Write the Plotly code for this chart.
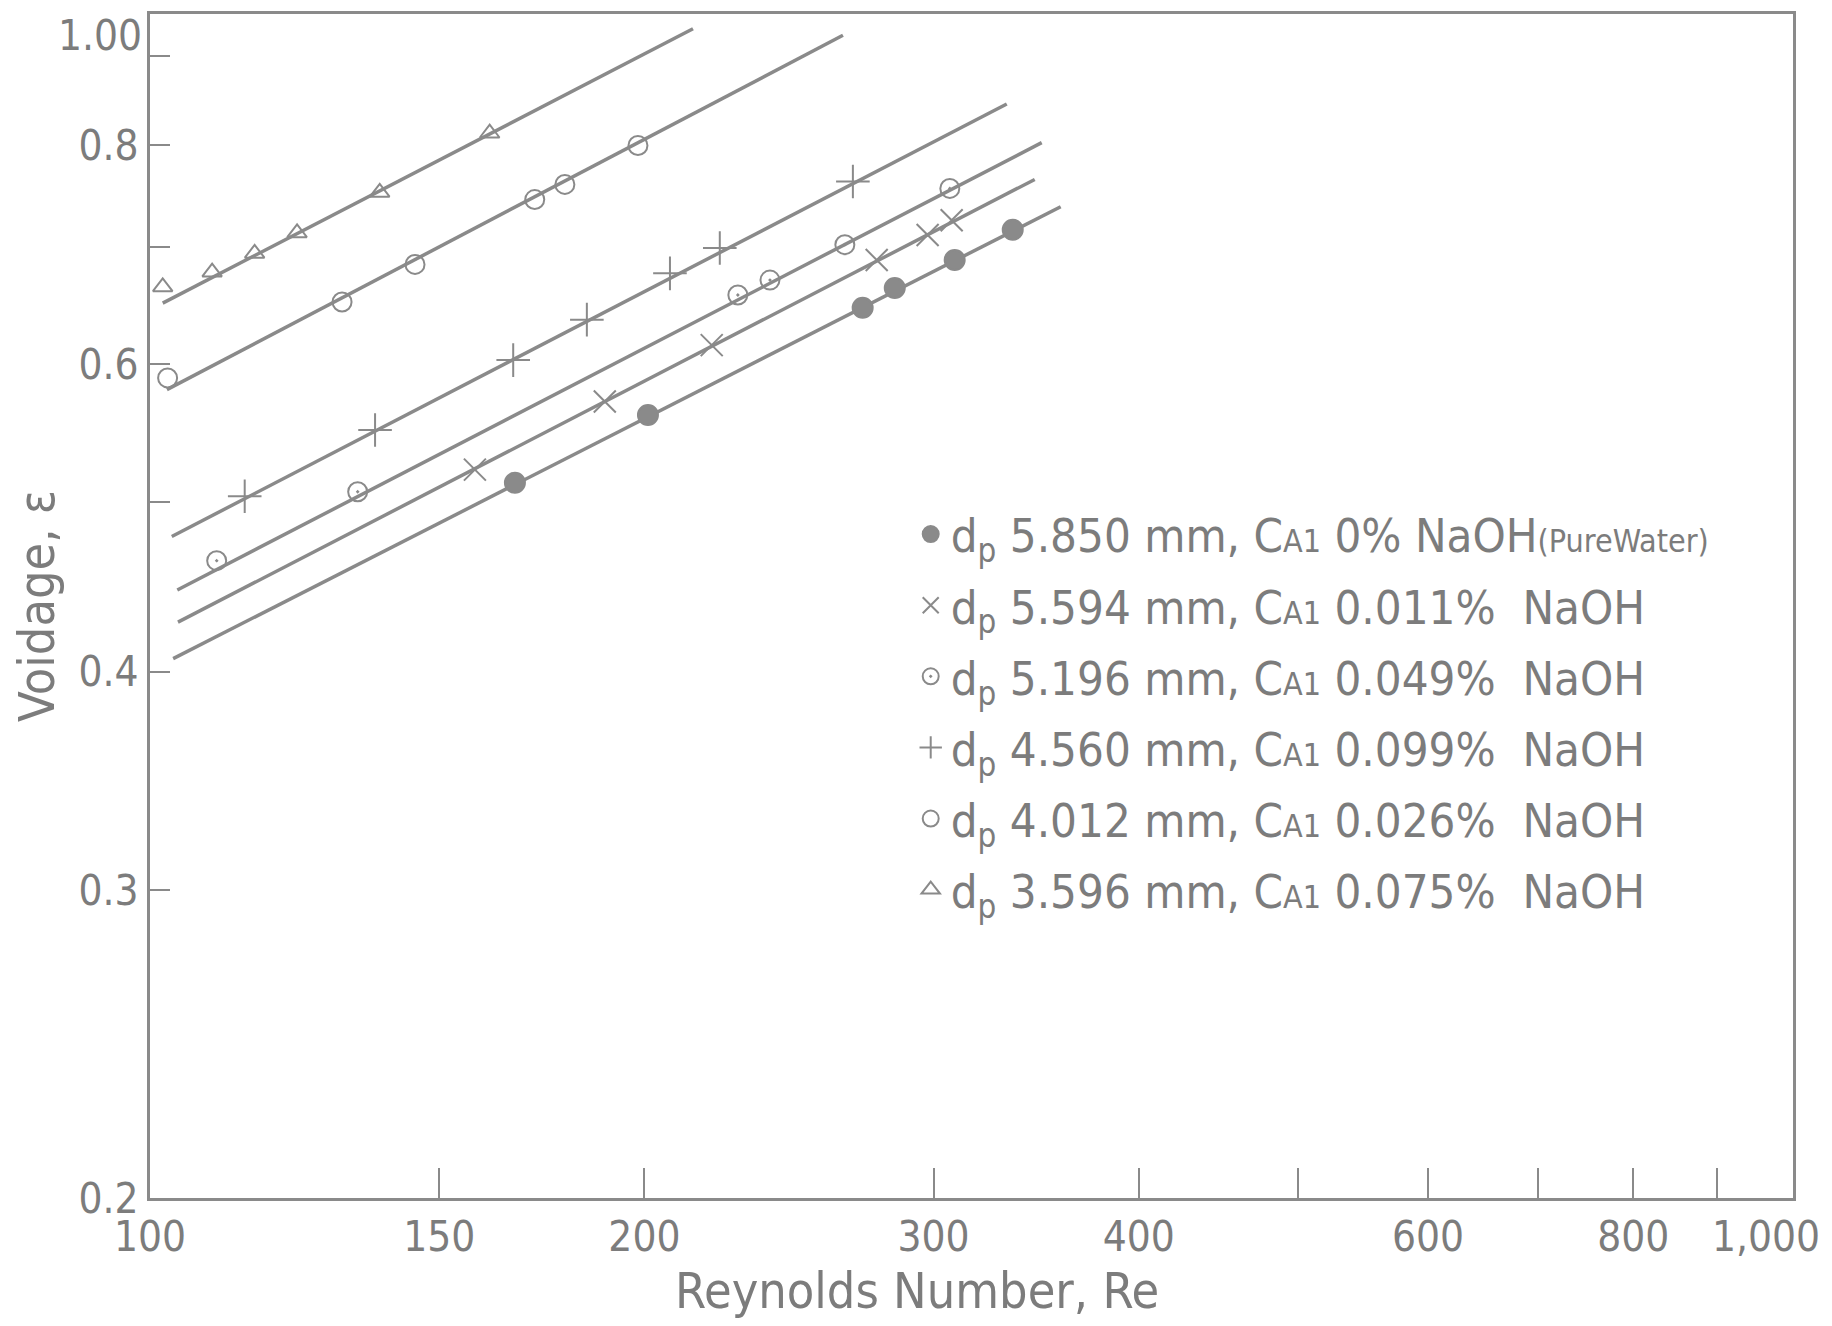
import plotly.graph_objects as go

# ---- data ----
re_tri = [101.8, 109.1, 115.8, 122.9, 138.0, 161.0]
eps_tri = [0.664, 0.677, 0.694, 0.713, 0.752, 0.813]
fit_re_tri = [101.8, 214.1]
fit_eps_tri = [0.650, 0.933]

re_phi = [102.5, 130.9, 145.0, 171.5, 178.9, 198.2]
eps_phi = [0.589, 0.651, 0.684, 0.745, 0.760, 0.800]
fit_re_phi = [102.4, 264.2]
fit_eps_phi = [0.580, 0.925]

re_plus = [114.2, 137.1, 166.4, 184.5, 207.3, 222.3, 267.9]
eps_plus = [0.504, 0.550, 0.603, 0.636, 0.676, 0.699, 0.763]
fit_re_plus = [103.1, 332.4]
fit_eps_plus = [0.478, 0.845]

re_o = [109.8, 133.8, 228.0, 238.5, 264.9, 306.9]
eps_o = [0.463, 0.507, 0.657, 0.670, 0.702, 0.756]
fit_re_o = [103.9, 349.1]
fit_eps_o = [0.4455, 0.803]

re_x = [157.7, 189.2, 219.8, 277.0, 297.5, 307.7]
eps_x = [0.522, 0.571, 0.615, 0.688, 0.711, 0.725]
fit_re_x = [104.0, 345.7]
fit_eps_x = [0.427, 0.765]

re_dot = [166.8, 201.0, 271.6, 284.1, 309.0, 335.2]
eps_dot = [0.513, 0.561, 0.646, 0.663, 0.688, 0.716]
fit_re_dot = [103.3, 358.5]
fit_eps_dot = [0.407, 0.738]

x_tickvals = [100, 150, 200, 300, 400, 600, 800]
x_ticktext = ["100", "150", "200", "300", "400", "600", "800"]
x_minor_vals = [500, 700, 900, 1000]
x_end_label = "1,000"
y_tickvals = [0.2, 0.3, 0.4, 0.6, 0.8]
y_ticktext = ["0.2", "0.3", "0.4", "0.6", "0.8"]
y_minor_vals = [0.5, 0.7, 0.9]
y_top_label = "1.00"

small = "<span style='font-size:32px'>{}</span>"
series = [
    ("d<sub>p</sub> 5.850 mm, C" + small.format("A1") + " 0% NaOH" + small.format("(PureWater)"),
     re_dot, eps_dot, fit_re_dot, fit_eps_dot, "circle", 20),
    ("d<sub>p</sub> 5.594 mm, C" + small.format("A1") + " 0.011%  NaOH",
     re_x, eps_x, fit_re_x, fit_eps_x, "x-thin-open", 22),
    ("d<sub>p</sub> 5.196 mm, C" + small.format("A1") + " 0.049%  NaOH",
     re_o, eps_o, fit_re_o, fit_eps_o, "circle-open-dot", 19),
    ("d<sub>p</sub> 4.560 mm, C" + small.format("A1") + " 0.099%  NaOH",
     re_plus, eps_plus, fit_re_plus, fit_eps_plus, "cross-thin-open", 24),
    ("d<sub>p</sub> 4.012 mm, C" + small.format("A1") + " 0.026%  NaOH",
     re_phi, eps_phi, fit_re_phi, fit_eps_phi, "circle-open", 19),
    ("d<sub>p</sub> 3.596 mm, C" + small.format("A1") + " 0.075%  NaOH",
     re_tri, eps_tri, fit_re_tri, fit_eps_tri, "triangle-up-open", 17),
]

GREY = "#8a8a8a"
TXT = "#7c7c7c"
FONT = "Liberation Sans Narrow, DejaVu Sans Condensed, Roboto, sans-serif"

fig = go.Figure()
for i, (name, rx, ry, fx, fy, sym, sz) in enumerate(series):
    fig.add_trace(go.Scatter(
        x=fx, y=fy, mode="lines", line=dict(color=GREY, width=3.5),
        showlegend=False, hoverinfo="skip"))
    fig.add_trace(go.Scatter(
        x=rx, y=ry, mode="markers", name=name, legendgroup=f"g{i}",
        marker=dict(symbol=sym, size=sz, color=GREY,
                    line=dict(color=GREY, width=2))))

fig.update_layout(
    width=1832, height=1326,
    margin=dict(l=142, r=47, t=6, b=136),
    paper_bgcolor="white", plot_bgcolor="white",
    font=dict(family=FONT, color=TXT, size=40),
    showlegend=True,
    legend=dict(x=0.463, y=0.592, xanchor="left", yanchor="top",
                bgcolor="rgba(0,0,0,0)", font=dict(size=47, color=TXT),
                tracegroupgap=7, itemwidth=30),
    xaxis=dict(type="log", range=[2, 3.0004], automargin=False,
               tickvals=x_tickvals, ticktext=x_ticktext,
               ticks="inside", ticklen=30, tickwidth=2, tickcolor=GREY,
               minor=dict(tickvals=x_minor_vals, ticks="inside", ticklen=30,
                          tickwidth=2, tickcolor=GREY, showgrid=False),
               showgrid=False, zeroline=False,
               showline=True, linecolor=GREY, linewidth=3, mirror=True,
               tickfont=dict(size=42, color=TXT)),
    yaxis=dict(type="log", range=[-0.69897, -0.0217], automargin=False,
               tickvals=y_tickvals, ticktext=y_ticktext,
               ticks="inside", ticklen=20, tickwidth=2, tickcolor=GREY,
               minor=dict(tickvals=y_minor_vals, ticks="inside", ticklen=20,
                          tickwidth=2, tickcolor=GREY, showgrid=False),
               showgrid=False, zeroline=False,
               showline=True, linecolor=GREY, linewidth=3, mirror=True,
               tickfont=dict(size=42, color=TXT),
               title=dict(text="Voidage, ε",
                          font=dict(size=50, color=TXT), standoff=16)),
    annotations=[
        dict(text=y_top_label, xref="paper", yref="paper", x=0, y=0.982,
             xanchor="right", yanchor="middle", xshift=-6, showarrow=False,
             font=dict(size=42, color=TXT, family=FONT)),
        dict(text=x_end_label, xref="x", yref="paper", x=3, y=0,
             xanchor="center", yanchor="top", xshift=-26, yshift=-12, showarrow=False,
             font=dict(size=42, color=TXT, family=FONT)),
        dict(text="Reynolds Number, Re", xref="paper", yref="paper",
             x=0.4668, y=-0.0785, xanchor="center", yanchor="middle",
             showarrow=False, font=dict(size=50, color=TXT, family=FONT)),
    ],
)

fig.write_html("out.html")
